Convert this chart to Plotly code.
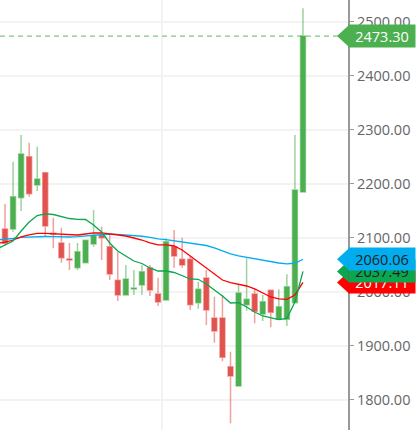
import plotly.graph_objects as go

### Candle data.
sessions = list(range(39))
opens = [2073.5, 2116.1, 2116.1, 2174.1, 2250.0, 2197.6, 2220.4, 2108.1, 2090.2, 2060.5,
         2044.4, 2053.7, 2088.3, 2104.4, 2083.3, 2021.1, 1993.9, 2005.0, 2012.4, 2043.9,
         1995.7, 1984.6, 2083.3, 2060.0, 2060.0, 1979.6, 2025.3, 1951.3, 1951.3, 1861.1,
         1825.3, 1975.9, 1995.7, 1958.7, 2002.6, 1948.9, 1948.9, 1979.6, 2184.6]
highs = [2101.3, 2162.4, 2240.7, 2290.2, 2275.9, 2268.5, 2222.2, 2137.0, 2118.5, 2090.2,
         2090.2, 2095.7, 2151.3, 2120.4, 2106.3, 2074.1, 2049.4, 2040.2, 2049.4, 2049.4,
         2025.9, 2098.9, 2114.2, 2100.0, 2066.1, 2018.5, 2040.2, 1990.7, 1993.9, 1888.8,
         2012.4, 2061.8, 2004.4, 1993.9, 2003.1, 2004.4, 2032.2, 2290.2, 2524.8]
lows = [2069.8, 2084.6, 2111.1, 2149.4, 2175.9, 2186.5, 2101.8, 2080.3, 2053.7, 2040.2,
        2040.2, 2053.7, 2083.3, 2058.7, 2021.6, 1982.7, 1993.9, 1993.9, 1993.9, 1992.0,
        1973.5, 1983.3, 2044.4, 2044.4, 1966.1, 1968.5, 1938.3, 1905.5, 1871.1, 1756.2,
        1825.3, 1964.8, 1941.4, 1945.7, 1934.0, 1948.9, 1936.4, 1979.6, 2184.6]
closes = [2095.7, 2089.6, 2175.9, 2255.0, 2181.5, 2208.7, 2121.6, 2106.3, 2063.0, 2058.7,
          2074.1, 2095.2, 2104.4, 2100.0, 2032.8, 1993.9, 2023.5, 2006.8, 2037.0, 2003.1,
          1980.9, 2092.6, 2066.1, 2049.4, 1975.9, 2004.4, 1966.1, 1927.2, 1878.5, 1843.9,
          1997.6, 1985.9, 1963.7, 1981.5, 1961.8, 1972.2, 2009.2, 2188.3, 2473.3]

### Moving averages.
ma_blue = [2095.7, 2096.6, 2098.5, 2100.4, 2101.3, 2102.2, 2102.2, 2101.8, 2101.3, 2101.3,
           2101.8, 2103.1, 2105.0, 2106.8, 2106.8, 2106.3, 2105.3, 2104.0, 2102.6, 2100.4,
           2097.6, 2096.3, 2094.4, 2092.6, 2090.2, 2088.3, 2085.5, 2080.9, 2075.3, 2069.8,
           2066.1, 2063.3, 2060.5, 2057.8, 2055.0, 2053.1, 2051.3, 2052.6, 2060.06]
ma_red = [2090.2, 2091.1, 2095.7, 2101.3, 2105.0, 2107.8, 2107.8, 2106.8, 2106.3, 2105.0,
          2105.0, 2106.8, 2108.7, 2108.7, 2106.8, 2105.0, 2103.1, 2099.4, 2095.7, 2090.2,
          2086.5, 2086.5, 2084.6, 2077.2, 2066.1, 2055.0, 2043.9, 2032.8, 2021.6, 2016.6,
          2014.2, 2010.5, 2005.0, 1997.6, 1990.2, 1986.5, 1985.9, 1993.9, 2017.11]
ma_green = [2079.1, 2086.5, 2093.9, 2112.4, 2129.1, 2141.1, 2143.9, 2142.9, 2139.2, 2135.5,
            2134.0, 2133.7, 2123.5, 2110.5, 2090.2, 2075.3, 2066.1, 2056.8, 2052.2, 2043.9,
            2038.3, 2038.3, 2035.5, 2029.0, 2023.5, 2022.9, 2014.2, 2003.1, 1992.0, 1979.0,
            1979.6, 1971.6, 1962.4, 1955.0, 1951.3, 1948.1, 1950.3, 1980.9, 2037.49]

y_ticks = [1800, 1900, 2000, 2100, 2200, 2300, 2400, 2500]
x_grid = [20.46]
last_price = 2473.30

### Axis ranges.
x_range = [0.379, 43.59]
y_range = [1743.8, 2540.2]

FONT = "Open Sans"
GREEN = "#4CAF50"
RED = "#E2534F"
BLUE_MA = "#00AEEF"
RED_MA = "#FF0000"
GREEN_MA = "#0AA650"
GRID = "#F3F3F3"

fig = go.Figure()

# Core candles.
fig.add_trace(go.Candlestick(
    x=sessions, open=opens, high=highs, low=lows, close=closes,
    whiskerwidth=0,
    increasing=dict(fillcolor=GREEN, line=dict(color="rgba(76,175,80,0.55)", width=1.5)),
    decreasing=dict(fillcolor=RED, line=dict(color="rgba(226,83,79,0.55)", width=1.5)),
))

# Moving average lines.
for values, color in [(ma_blue, BLUE_MA), (ma_red, RED_MA), (ma_green, GREEN_MA)]:
    fig.add_trace(go.Scatter(x=sessions, y=values, mode="lines",
                             line=dict(color=color, width=1.3, shape="linear")))

# Dashed last price line.
fig.add_shape(type="line", xref="paper", yref="y", x0=0, x1=0.97,
              y0=last_price, y1=last_price,
              line=dict(color="rgba(76,175,80,0.7)", width=1.2, dash="5px,4px"))

# Price tags, later ones sit on top of earlier ones.
tags = [(last_price, GREEN, "#FFFFFF"),
        (ma_red[-1], RED_MA, "#FFFFFF"),
        (ma_green[-1], GREEN_MA, "#222222"),
        (ma_blue[-1], BLUE_MA, "#222222")]
annotations = []
for price, color, text_color in tags:
    frac = (price - y_range[0]) / (y_range[1] - y_range[0])
    fig.add_shape(type="path", xref="paper", yref="paper",
                  xsizemode="pixel", ysizemode="pixel", xanchor=1, yanchor=frac,
                  path="M -11 0 L 1 11 L 1 -11 Z", fillcolor=color, line_width=0, layer="above")
    annotations.append(dict(xref="paper", yref="y", x=1, y=price, xanchor="left", yanchor="middle",
                            text="%.2f" % price, showarrow=False, width=66, height=22,
                            bgcolor=color, borderpad=0, align="center",
                            font=dict(family=FONT, size=14.5, color=text_color)))

fig.update_layout(
    width=418, height=430,
    margin=dict(l=0, r=70, t=0, b=0),
    paper_bgcolor="white", plot_bgcolor="white",
    showlegend=False,
    boxgap=0.12,
    annotations=annotations,
    font=dict(family=FONT),
    xaxis=dict(range=x_range, rangeslider=dict(visible=False), tickvals=x_grid,
               showticklabels=False, ticks="", showgrid=True, gridcolor=GRID, gridwidth=1.5,
               zeroline=False, showline=False),
    yaxis=dict(range=y_range, side="right", tickvals=y_ticks, tickformat=".2f",
               tickfont=dict(family=FONT, size=14.5, color="#666666"),
               ticks="outside", ticklen=4, tickwidth=1, tickcolor="#999999",
               showgrid=True, gridcolor=GRID, gridwidth=1.5,
               zeroline=False, showline=True, linecolor="#999999", linewidth=2),
)

# The page body has a default margin, drop it so the chart fills the window.
fig.write_html("out.html", config=dict(displayModeBar=False),
               post_script="document.body.style.margin='0';")
